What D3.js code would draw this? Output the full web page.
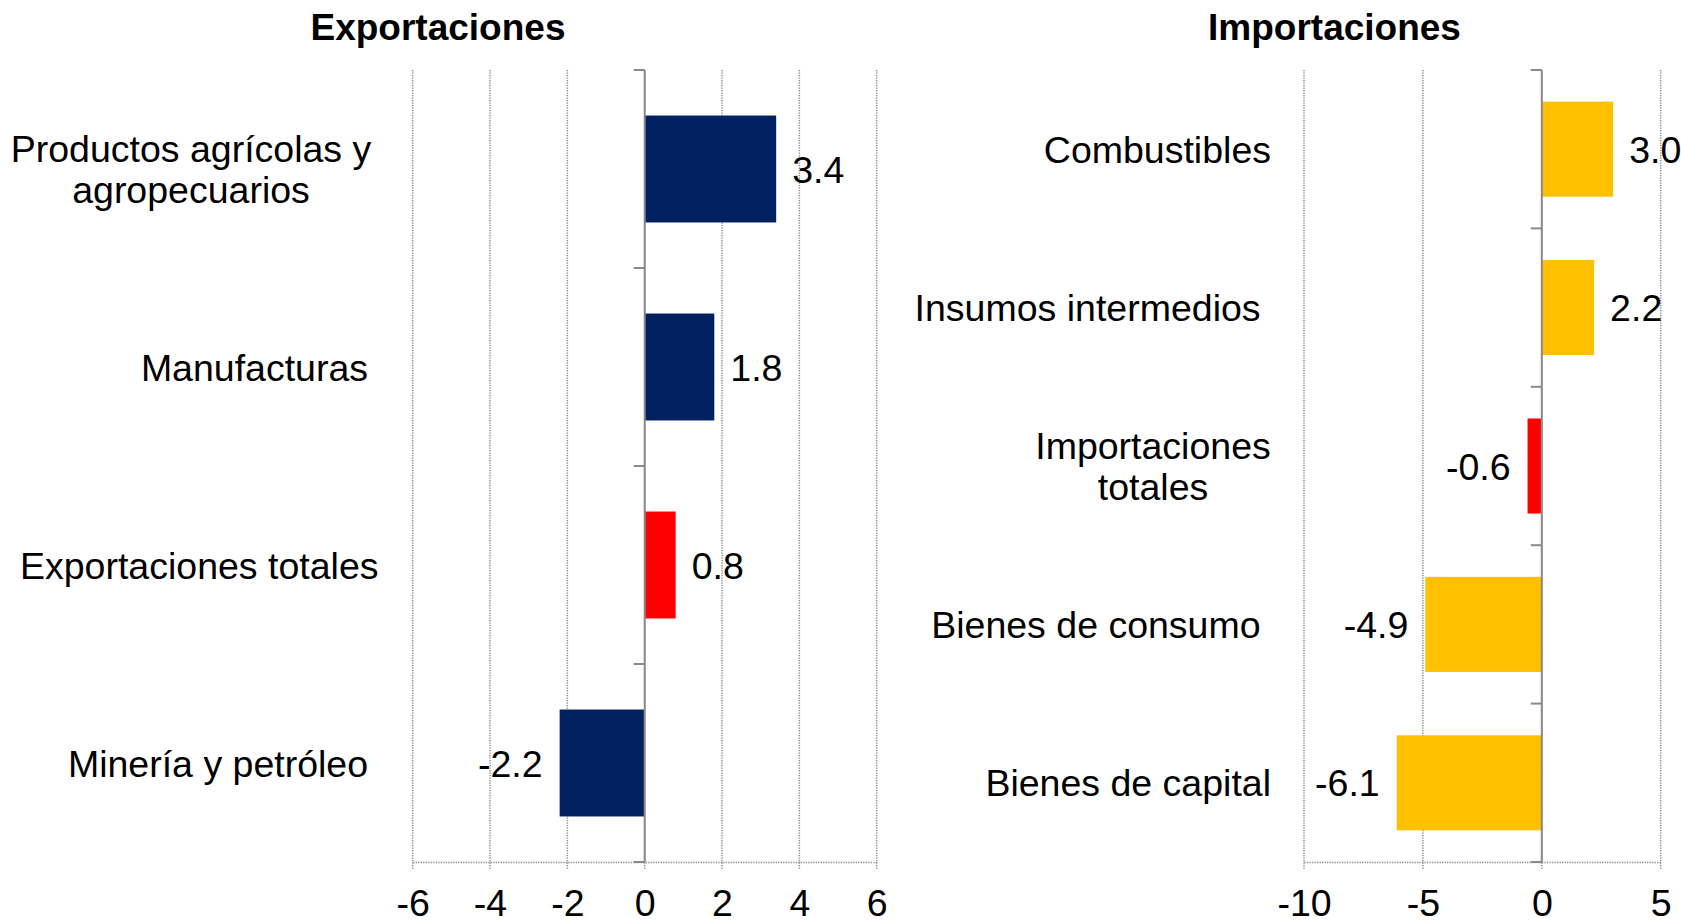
<!DOCTYPE html>
<html>
<head>
<meta charset="utf-8">
<script src="https://cdn.jsdelivr.net/npm/d3@7"></script>
<style>
  body { margin: 0; background: #fff; }
  svg text { font-family: 'Liberation Sans', Arial, sans-serif; fill: #000; }
</style>
</head>
<body>
<script>
// exports panel
var expCategories = ['Productos agrícolas y\nagropecuarios', 'Manufacturas ', 'Exportaciones totales', 'Minería y petróleo '];
var expValues = [3.4, 1.8, 0.8, -2.2];
var expTicks = [-6, -4, -2, 0, 2, 4, 6];

// imports panel
var impCategories = ['Combustibles', 'Insumos intermedios ', 'Importaciones\ntotales', 'Bienes de consumo ', 'Bienes de capital'];
var impValues = [3.0, 2.2, -0.6, -4.9, -6.1];
var impTicks = [-10, -5, 0, 5];

// the "total" rows get the red bar
var totalCategories = ['Exportaciones totales', 'Importaciones\ntotales'];

var W = 1681, H = 923;
var NAVY = '#002060', YELLOW = '#FFC000', RED = '#FF0000';
var AXIS = '#8a8a8a', GRID = '#8c8c8c';
var FONT = 37.5;
var TOP = 70, BOTTOM = 862;

var svg = d3.select('body').append('svg')
  .attr('width', W)
  .attr('height', H);

drawPanel({
  title: 'Exportaciones', titleX: 438,
  categories: expCategories, values: expValues, ticks: expTicks,
  left: 412.7, right: 876.7, labelRight: 378.5, wrapX: 191,
  padding: 0.46, color: NAVY
});

drawPanel({
  title: 'Importaciones', titleX: 1334.5,
  categories: impCategories, values: impValues, ticks: impTicks,
  left: 1304, right: 1660.7, labelRight: 1271, wrapX: 1153,
  padding: 0.4, color: YELLOW
});

function drawPanel(o) {
  var g = svg.append('g');
  var dom = d3.extent(o.ticks);

  var x = d3.scaleLinear().domain(dom).range([o.left, o.right]);
  var y = d3.scaleBand()
    .domain(o.categories)
    .range([TOP, BOTTOM])
    .paddingInner(o.padding)
    .paddingOuter(o.padding / 2);

  // dotted vertical gridlines
  g.append('g').selectAll('line')
      .data(o.ticks)
    .enter().append('line')
      .attr('x1', function(d) { return x(d); })
      .attr('x2', function(d) { return x(d); })
      .attr('y1', TOP)
      .attr('y2', BOTTOM + 8)
      .attr('stroke', GRID)
      .attr('stroke-width', 1.5)
      .attr('stroke-dasharray', '1.3,1.2');

  // value axis along the bottom, dotted like the grid
  var xAxis = d3.axisBottom(x)
    .tickValues(o.ticks)
    .tickSize(0)
    .tickPadding(27)
    .tickFormat(function(d) { return String(d); });

  var ax = g.append('g')
    .attr('transform', 'translate(0,' + BOTTOM + ')')
    .call(xAxis);
  ax.select('.domain')
    .attr('stroke', GRID)
    .attr('stroke-width', 1.5)
    .attr('stroke-dasharray', '1.3,1.2');
  ax.selectAll('text')
    .style('font-size', FONT + 'px')
    .style('font-family', "'Liberation Sans', Arial, sans-serif")
    .attr('fill', '#000');

  // bars
  g.append('g').selectAll('rect')
      .data(o.values)
    .enter().append('rect')
      .attr('x', function(d) { return x(Math.min(0, d)); })
      .attr('y', function(d, i) { return y(o.categories[i]); })
      .attr('width', function(d) { return Math.abs(x(d) - x(0)); })
      .attr('height', y.bandwidth())
      .attr('fill', function(d, i) {
        return totalCategories.indexOf(o.categories[i]) > -1 ? RED : o.color;
      });

  // solid category axis at zero, ticks on band boundaries
  var bounds = d3.range(o.categories.length + 1).map(function(i) {
    return TOP + i * y.step();
  });
  g.append('line')
    .attr('x1', x(0)).attr('x2', x(0))
    .attr('y1', TOP).attr('y2', BOTTOM)
    .attr('stroke', AXIS)
    .attr('stroke-width', 2);
  g.append('g').selectAll('line')
      .data(bounds)
    .enter().append('line')
      .attr('x1', x(0) - 11)
      .attr('x2', x(0))
      .attr('y1', function(d) { return d; })
      .attr('y2', function(d) { return d; })
      .attr('stroke', AXIS)
      .attr('stroke-width', 2);

  // value labels
  g.append('g').selectAll('text')
      .data(o.values)
    .enter().append('text')
      .attr('x', function(d) { return d >= 0 ? x(d) + 16 : x(d) - 17; })
      .attr('y', function(d, i) { return y(o.categories[i]) + y.bandwidth() / 2; })
      .attr('dy', '0.36em')
      .attr('text-anchor', function(d) { return d >= 0 ? 'start' : 'end'; })
      .style('font-size', FONT + 'px')
      .text(function(d) { return d.toFixed(1); });

  // category labels (wrapped ones centred, single ones right aligned)
  o.categories.forEach(function(cat) {
    var lines = cat.split('\n');
    var cy = y(cat) + y.bandwidth() / 2;
    var t = g.append('text')
      .attr('xml:space', 'preserve')
      .style('white-space', 'pre')
      .style('font-size', FONT + 'px')
      .attr('text-anchor', lines.length > 1 ? 'middle' : 'end');
    lines.forEach(function(line, i) {
      t.append('tspan')
        .attr('x', lines.length > 1 ? o.wrapX : o.labelRight)
        .attr('y', cy + (i - (lines.length - 1) / 2) * 41)
        .attr('dy', '0.36em')
        .text(line);
    });
  });

  g.append('text')
    .attr('x', o.titleX)
    .attr('y', 40)
    .attr('text-anchor', 'middle')
    .style('font-size', '37px')
    .style('font-weight', 'bold')
    .text(o.title);
}
</script>
</body>
</html>
